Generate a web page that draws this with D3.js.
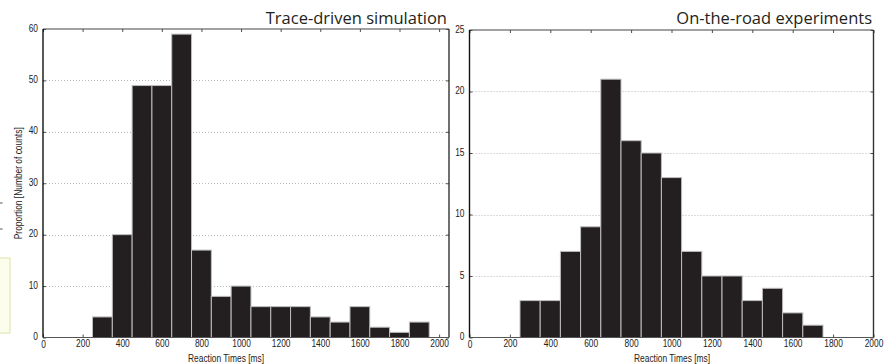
<!DOCTYPE html>
<html>
<head>
<meta charset="utf-8">
<script src="https://cdn.jsdelivr.net/npm/d3@7"></script>
<style>
  html, body { margin: 0; padding: 0; background: #fff; }
  svg { display: block; }
  .tick-lbl { font-family: "Liberation Sans", Arial, sans-serif; font-size: 10.5px; fill: #222; }
  .title { font-family: "Open Sans", "Noto Sans", sans-serif; font-size: 16.5px; fill: #231f20; }
</style>
</head>
<body>
<svg id="chart" width="896" height="364"></svg>
<script>
// ── données ──
const binStarts = [250, 350, 450, 550, 650, 750, 850, 950, 1050, 1150, 1250, 1350, 1450, 1550, 1650, 1750, 1850];
const binWidth  = 100;
const simCounts  = [4, 20, 49, 49, 59, 17, 8, 10, 6, 6, 6, 4, 3, 6, 2, 1, 3];
const roadCounts = [3, 3, 7, 9, 21, 16, 15, 13, 7, 5, 5, 3, 4, 2, 1];

const xTicks     = [0, 200, 400, 600, 800, 1000, 1200, 1400, 1600, 1800, 2000];
const simYTicks  = [0, 10, 20, 30, 40, 50, 60];
const roadYTicks = [0, 5, 10, 15, 20, 25];

const xLabel = 'Reaction Times [ms]';
const yLabel = 'Proportion [Number of counts]';

const svg = d3.select('#chart');
const SX = 0.8; // compression horizontale des petits textes

// petites traces en marge gauche (bord du document d'origine)
svg.append('rect')
  .attr('x', -2).attr('y', 258).attr('width', 12).attr('height', 75)
  .attr('fill', '#fcfdeb').attr('stroke', '#dbe4a8').attr('stroke-width', 1);
[203, 229].forEach(y => {
  svg.append('line').attr('x1', 0).attr('x2', 2.5).attr('y1', y).attr('y2', y)
    .attr('stroke', '#555').attr('stroke-width', 1);
});

function scaleText(sel, k) {
  sel.each(function() {
    const t = d3.select(this);
    const x = +t.attr('x') || 0;
    t.attr('transform', `scale(${k},1)`).attr('x', x / k);
  });
}

function drawPanel(opts) {
  const { x0, x1, y0, y1, xMax, yMax, counts, yTicks, title, titleX, showYLabel, xLabelX } = opts;

  const x = d3.scaleLinear().domain([0, xMax]).range([x0, x1]);
  const y = d3.scaleLinear().domain([0, yMax]).range([y0, y1]);

  const g = svg.append('g');

  // grille horizontale pointillée
  g.append('g').selectAll('line')
    .data(yTicks.filter(v => v > 0 && v < yMax))
    .join('line')
    .attr('x1', x0).attr('x2', x1)
    .attr('y1', d => Math.round(y(d)) + 0.5).attr('y2', d => Math.round(y(d)) + 0.5)
    .attr('stroke', '#a8a8a8').attr('stroke-width', 0.8)
    .attr('stroke-dasharray', '1,2');

  // barres
  const bars = binStarts.slice(0, counts.length).map((s, i) => ({ s, v: counts[i] }));
  g.append('g').selectAll('rect')
    .data(bars)
    .join('rect')
    .attr('x', d => x(d.s))
    .attr('y', d => y(d.v))
    .attr('width', d => x(d.s + binWidth) - x(d.s))
    .attr('height', d => y(0) - y(d.v))
    .attr('fill', '#231f20')
    .attr('stroke', '#bdbdbd')
    .attr('stroke-width', 1);

  // axes (ticks vers l'intérieur)
  const fmt = d3.format('d');
  const ax = g.append('g');
  const bottom = ax.append('g').attr('transform', `translate(0,${y0})`)
    .call(d3.axisBottom(x).tickValues(xTicks).tickFormat(fmt).tickSizeInner(-3).tickSizeOuter(0).tickPadding(6));
  const top = ax.append('g').attr('transform', `translate(0,${y1})`)
    .call(d3.axisTop(x).tickValues(xTicks).tickSizeInner(-3).tickSizeOuter(0).tickFormat(''));
  const left = ax.append('g').attr('transform', `translate(${x0},0)`)
    .call(d3.axisLeft(y).tickValues(yTicks).tickFormat(fmt).tickSizeInner(-3).tickSizeOuter(0).tickPadding(5));
  const right = ax.append('g').attr('transform', `translate(${x1},0)`)
    .call(d3.axisRight(y).tickValues(yTicks).tickSizeInner(-3).tickSizeOuter(0).tickFormat(''));

  [bottom, top, left, right].forEach(a => {
    a.select('.domain').remove();
    a.attr('font-size', null).attr('font-family', null);
    a.selectAll('.tick line').attr('stroke', '#222').attr('stroke-width', 0.8);
  });
  bottom.selectAll('.tick text').attr('class', 'tick-lbl').attr('dy', '0.62em').attr('y', 3);
  left.selectAll('.tick text').attr('class', 'tick-lbl').attr('dy', '0.2em');
  bottom.selectAll('.tick text').call(scaleText, SX);
  left.selectAll('.tick text').call(scaleText, SX);
  bottom.selectAll('.tick').filter(d => d === 0).select('text').attr('dy', '0.75em');

  // cadre
  ax.append('line').attr('x1', x0).attr('x2', x1).attr('y1', y1).attr('y2', y1)
    .attr('stroke', '#444').attr('stroke-width', 1.2);
  ax.append('line').attr('x1', x0).attr('x2', x1).attr('y1', y0).attr('y2', y0)
    .attr('stroke', '#555').attr('stroke-width', 1);
  ax.append('line').attr('x1', x0).attr('x2', x0).attr('y1', y1).attr('y2', y0)
    .attr('stroke', '#111').attr('stroke-width', 1.4);
  ax.append('line').attr('x1', x1).attr('x2', x1).attr('y1', y1).attr('y2', y0)
    .attr('stroke', '#333').attr('stroke-width', 1.4);

  // libellés
  g.append('text')
    .attr('class', 'tick-lbl')
    .attr('text-anchor', 'middle')
    .attr('transform', `translate(${xLabelX},361.5) scale(${SX},1)`)
    .text(xLabel);

  if (showYLabel) {
    g.append('text')
      .attr('class', 'tick-lbl')
      .attr('text-anchor', 'middle')
      .attr('transform', `translate(21.5,${(y0 + y1) / 2}) rotate(-90) scale(${SX},1)`)
      .text(yLabel);
  }

  g.append('text')
    .attr('class', 'title')
    .attr('text-anchor', 'end')
    .attr('x', titleX).attr('y', 24)
    .text(title);
}

drawPanel({
  x0: 43, x1: 449, y0: 337.5, y1: 29,
  xMax: 2050, yMax: 60,
  counts: simCounts, yTicks: simYTicks,
  title: 'Trace-driven simulation', titleX: 447,
  showYLabel: true, xLabelX: 226
});

drawPanel({
  x0: 469.5, x1: 873.5, y0: 337.5, y1: 30,
  xMax: 2000, yMax: 25,
  counts: roadCounts, yTicks: roadYTicks,
  title: 'On-the-road experiments', titleX: 872,
  showYLabel: false, xLabelX: 672
});
</script>
</body>
</html>
